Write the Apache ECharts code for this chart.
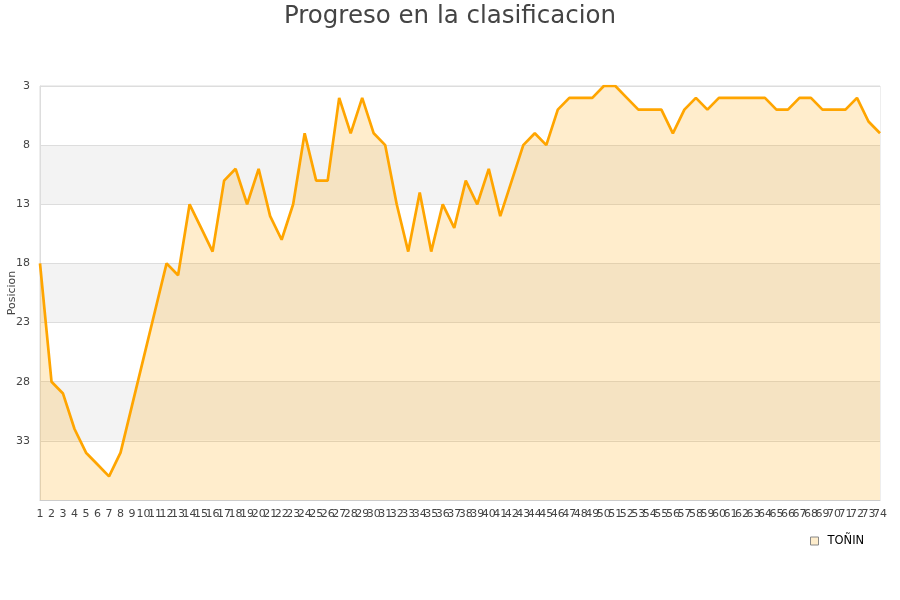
<!DOCTYPE html>
<html><head><meta charset="utf-8">
<script src="https://cdn.jsdelivr.net/npm/echarts@6/dist/echarts.min.js"></script>
<style>html,body{margin:0;padding:0;background:#fff}#c{width:900px;height:600px}</style>
</head><body><div id="c"></div>
<script>
var jornadas = [];
for (var i = 1; i <= 74; i++) jornadas.push(String(i));
var seriesName = 'TOÑIN';
var posiciones = [18,28,29,32,34,35,36,34,30,26,22,18,19,13,15,17,11,10,13,10,
  14,16,13,7,11,11,4,7,4,7,8,13,17,12,17,13,15,11,13,10,
  14,11,8,7,8,5,4,4,4,3,3,4,5,5,5,7,5,4,5,4,
  4,4,4,4,5,5,4,4,5,5,5,4,6,7];
var yTicks = {min: 3, max: 38, interval: 5};

var chart = echarts.init(document.getElementById('c'));
chart.setOption({
  animation: false,
  title: {text: 'Progreso en la clasificacion', left: 'center', top: -1,
    textStyle: {fontSize: 24.5, fontWeight: 'normal', color: '#444', fontFamily: 'DejaVu Sans'}},
  legend: {data: [{name: seriesName, icon: 'rect', itemStyle: {color: '#feedcc', borderColor: '#888', borderWidth: 1}}],
    left: 805, top: 530, itemWidth: 8, itemHeight: 8, itemGap: 6,
    textStyle: {fontSize: 11.5, color: '#000', fontFamily: 'DejaVu Sans', padding: [0, 0, 0, 4]}},
  grid: {left: 40, right: 20, top: 86, bottom: 100, show: true, borderColor: '#ddd', borderWidth: 1,
    outerBoundsMode: 'none', containLabel: false},
  xAxis: {type: 'category', data: jornadas, boundaryGap: false,
    axisLine: {lineStyle: {color: '#ccc'}}, axisTick: {show: false},
    axisLabel: {interval: 0, fontSize: 11, color: '#444', margin: 9, fontFamily: 'DejaVu Sans', hideOverlap: false}},
  yAxis: {type: 'value', inverse: true, min: yTicks.min, max: yTicks.max, interval: yTicks.interval,
    name: 'Posicion', nameLocation: 'middle', nameGap: 22, nameMoveOverlap: false,
    nameTextStyle: {fontSize: 11, color: '#444', fontFamily: 'DejaVu Sans'},
    axisLine: {show: true, lineStyle: {color: '#ddd'}}, axisTick: {show: false},
    axisLabel: {showMaxLabel: false, fontSize: 11, color: '#444', margin: 10, fontFamily: 'DejaVu Sans'},
    splitLine: {lineStyle: {color: '#ddd'}},
    splitArea: {show: true, areaStyle: {color: ['#ffffff', '#f3f3f3']}}},
  series: [{name: seriesName, type: 'line', data: posiciones, showSymbol: false, symbol: 'none',
    lineStyle: {color: '#FFA500', width: 2.7}, itemStyle: {color: '#FFA500'},
    areaStyle: {origin: 'end', color: 'rgba(255,165,0,0.2)', opacity: 1}}]
});
</script></body></html>
